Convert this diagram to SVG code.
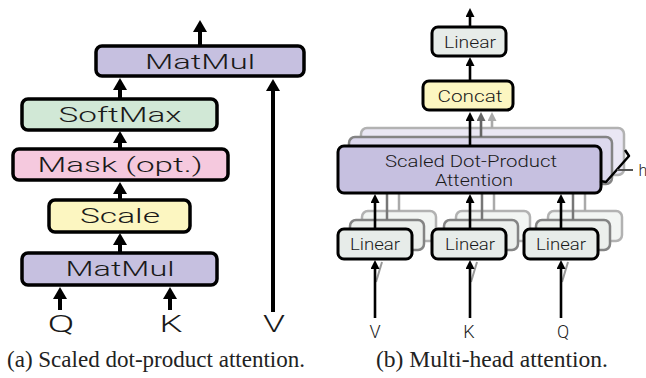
<svg xmlns="http://www.w3.org/2000/svg" width="646" height="378" viewBox="0 0 646 378">
<defs>
<marker id="big" viewBox="0 0 12 14" refX="2" refY="7" markerWidth="12" markerHeight="14" markerUnits="userSpaceOnUse" orient="auto"><path d="M0,0 L12,7 L0,14 z" fill="#000"/></marker>
<marker id="sm" viewBox="0 0 9 9" refX="2" refY="4.5" markerWidth="9" markerHeight="9" markerUnits="userSpaceOnUse" orient="auto"><path d="M0,0 L9,4.5 L0,9 z" fill="#000"/></marker>
<marker id="smg" viewBox="0 0 9 9" refX="2" refY="4.5" markerWidth="9" markerHeight="9" markerUnits="userSpaceOnUse" orient="auto"><path d="M0,0 L9,4.5 L0,9 z" fill="#666"/></marker>
<marker id="smg2" viewBox="0 0 9 9" refX="2" refY="4.5" markerWidth="9" markerHeight="9" markerUnits="userSpaceOnUse" orient="auto"><path d="M0,0 L9,4.5 L0,9 z" fill="#aaa"/></marker>
</defs>
<style>
.bx{stroke:#000;stroke-width:3.5}
.rb{stroke:#000;stroke-width:3}
.lav{fill:#c6c0e0}.grn{fill:#d1e8d6}.pnk{fill:#f5c9de}.yel{fill:#fcf6c1}.lin{fill:#e7ece9}
.t{font-family:Roboto,"Liberation Sans",Arial,sans-serif;font-weight:300;fill:#1a1a1a;text-anchor:middle}
.tl{font-size:21px}
.tr{font-size:16px}
.cap{font-family:"Liberation Serif","Times New Roman",serif;font-size:24px;fill:#222}
.ab{stroke:#000;stroke-width:4;fill:none;marker-end:url(#big)}
.as{stroke:#000;stroke-width:2.6;fill:none;marker-end:url(#sm)}
.ag{stroke:#666;stroke-width:2.6;fill:none;marker-end:url(#smg)}
.ag2{stroke:#aaa;stroke-width:2.6;fill:none;marker-end:url(#smg2)}
.sh1{stroke:#777;stroke-width:2.5}
.sh2{stroke:#aaa;stroke-width:2.5}
</style>

<g id="shadows" opacity="0.9">
<rect x="361" y="128" width="263" height="47" rx="6" fill="#e8e5f3" class="sh2"/>
<rect x="349" y="137" width="263" height="47" rx="6" fill="#d9d4ec" class="sh1"/>
<rect x="362" y="211" width="74" height="30" rx="6" fill="#f1f4f2" class="sh2"/>
<rect x="350" y="220" width="74" height="30" rx="6" fill="#eaeeeb" class="sh1"/>
<rect x="456" y="211" width="74" height="30" rx="6" fill="#f1f4f2" class="sh2"/>
<rect x="444" y="220" width="74" height="30" rx="6" fill="#eaeeeb" class="sh1"/>
<rect x="548" y="211" width="74" height="30" rx="6" fill="#f1f4f2" class="sh2"/>
<rect x="536" y="220" width="74" height="30" rx="6" fill="#eaeeeb" class="sh1"/>
</g>

<g id="connectors">
<line class="ab" x1="200" y1="45" x2="200" y2="30"/>
<line class="ab" x1="120" y1="98" x2="120" y2="88"/>
<line class="ab" x1="120" y1="148" x2="120" y2="141"/>
<line class="ab" x1="120" y1="199" x2="120" y2="192"/>
<line class="ab" x1="120" y1="252" x2="120" y2="243"/>
<line class="ab" x1="60" y1="310" x2="60" y2="297"/>
<line class="ab" x1="170" y1="310" x2="170" y2="297"/>
<line class="ab" x1="273" y1="312" x2="273" y2="89"/>
<line class="as" x1="470" y1="27" x2="470" y2="15"/>
<line class="as" x1="470" y1="81" x2="470" y2="64"/>
<line class="ag2" x1="492" y1="128" x2="492" y2="119"/>
<line class="ag" x1="481" y1="137" x2="481" y2="119"/>
<line class="as" x1="470" y1="146" x2="470" y2="119"/>
<line class="sh2" x1="399" y1="211" x2="399" y2="175"/>
<line class="sh1" x1="387" y1="220" x2="387" y2="184"/>
<line class="sh2" x1="494" y1="211" x2="494" y2="175"/>
<line class="sh1" x1="482" y1="220" x2="482" y2="184"/>
<line class="sh2" x1="585" y1="211" x2="585" y2="175"/>
<line class="sh1" x1="573" y1="220" x2="573" y2="184"/>
<line class="as" x1="375" y1="229" x2="375" y2="201"/>
<line class="as" x1="470" y1="229" x2="470" y2="201"/>
<line class="as" x1="561" y1="229" x2="561" y2="201"/>
<line stroke="#999" stroke-width="2" x1="382" y1="262" x2="376" y2="282"/>
<line stroke="#999" stroke-width="2" x1="477" y1="262" x2="471" y2="282"/>
<line stroke="#999" stroke-width="2" x1="568" y1="262" x2="562" y2="282"/>
<line class="as" x1="375" y1="318" x2="375" y2="267"/>
<line class="as" x1="470" y1="318" x2="470" y2="267"/>
<line class="as" x1="561" y1="318" x2="561" y2="267"/>
</g>

<g id="matmul-top"><rect class="bx lav" x="96" y="46" width="208" height="30" rx="6"/><text class="t tl" x="200" y="69" textLength="110" lengthAdjust="spacingAndGlyphs">MatMul</text></g>
<g id="softmax"><rect class="bx grn" x="22" y="99" width="195" height="31" rx="6"/><text class="t tl" x="120" y="122" textLength="123" lengthAdjust="spacingAndGlyphs">SoftMax</text></g>
<g id="mask"><rect class="bx pnk" x="13" y="149" width="215" height="31" rx="6"/><text class="t tl" x="120" y="172" textLength="165" lengthAdjust="spacingAndGlyphs">Mask (opt.)</text></g>
<g id="scale"><rect class="bx yel" x="49" y="200" width="141" height="32" rx="6"/><text class="t tl" x="120" y="223" textLength="80" lengthAdjust="spacingAndGlyphs">Scale</text></g>
<g id="matmul-bottom"><rect class="bx lav" x="22" y="253" width="195" height="32" rx="6"/><text class="t tl" x="120" y="276" textLength="109" lengthAdjust="spacingAndGlyphs">MatMul</text></g>
<g id="left-inputs">
<text class="t" style="font-size:23px" x="61" y="332" textLength="27" lengthAdjust="spacingAndGlyphs">Q</text>
<text class="t" style="font-size:23px" x="171" y="332" textLength="23" lengthAdjust="spacingAndGlyphs">K</text>
<text class="t" style="font-size:23px" x="274" y="332" textLength="22" lengthAdjust="spacingAndGlyphs">V</text>
</g>

<g id="linear-top"><rect class="rb lin" x="432" y="27" width="74" height="29" rx="6"/><text class="t tr" x="470" y="48" textLength="52" lengthAdjust="spacingAndGlyphs">Linear</text></g>
<g id="concat"><rect class="rb yel" x="423" y="81" width="90" height="29" rx="6"/><text class="t tr" x="470" y="102" textLength="65" lengthAdjust="spacingAndGlyphs">Concat</text></g>
<g id="attention"><rect class="rb lav" x="338" y="146" width="263" height="47" rx="6"/>
<text class="t tr" x="471" y="167" textLength="172" lengthAdjust="spacingAndGlyphs">Scaled Dot-Product</text>
<text class="t tr" x="474" y="186" textLength="78" lengthAdjust="spacingAndGlyphs">Attention</text></g>
<g id="linear-v"><rect class="rb lin" x="338" y="229" width="74" height="30" rx="6"/><text class="t tr" x="375" y="250" textLength="50" lengthAdjust="spacingAndGlyphs">Linear</text></g>
<g id="linear-k"><rect class="rb lin" x="432" y="229" width="74" height="30" rx="6"/><text class="t tr" x="470" y="250" textLength="50" lengthAdjust="spacingAndGlyphs">Linear</text></g>
<g id="linear-q"><rect class="rb lin" x="524" y="229" width="74" height="30" rx="6"/><text class="t tr" x="561" y="250" textLength="50" lengthAdjust="spacingAndGlyphs">Linear</text></g>
<g id="right-inputs">
<text class="t" style="font-size:18px" x="375" y="338">V</text>
<text class="t" style="font-size:18px" x="469" y="338">K</text>
<text class="t" style="font-size:18px" x="563" y="338">Q</text>
</g>
<g id="brace">
<path d="M625,150 L629,156 L606,182 L600,181" fill="none" stroke="#000" stroke-width="2.5" stroke-linejoin="round"/>
<line x1="617" y1="170" x2="633" y2="170" stroke="#555" stroke-width="2"/>
<text class="t tr" x="643" y="176">h</text>
</g>

<g id="captions">
<text class="cap" x="7" y="367" textLength="298" lengthAdjust="spacingAndGlyphs">(a) Scaled dot-product attention.</text>
<text class="cap" x="376" y="367" textLength="232" lengthAdjust="spacingAndGlyphs">(b) Multi-head attention.</text>
</g>
</svg>
